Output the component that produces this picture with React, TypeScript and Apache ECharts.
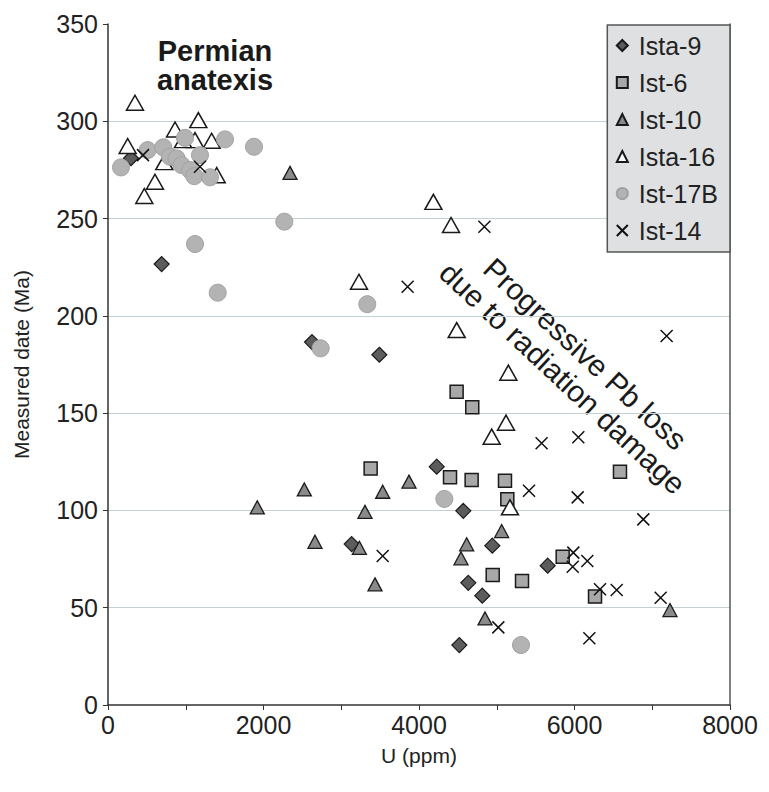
import React, { useEffect, useRef } from "react";
import * as echarts from "echarts";

const ista9 = [[296,281],[690,226.6],[2624,186.5],[3490,180],[4228,122.5],[4570,99.8],[3134,82.7],[4943,81.9],[4634,62.8],[4814,56.2],[4519,30.8],[5655,71.6]];
const ist6 = [[4484,161],[4685,153],[3378,121.6],[4399,117],[4677,115.6],[5106,115.3],[5136,105.7],[6585,119.9],[4948,66.8],[5325,63.7],[5848,76.2],[6264,55.7]];
const ist10 = [[2341,273.5],[1920,101.6],[2525,110.8],[3305,99.3],[3533,109.6],[3871,114.8],[2662,83.9],[3233,80.8],[3434,62],[4613,82.6],[4540,75.4],[4849,44.5],[5063,89.4],[7228,48.8]];
const ista16 = [[347,309.5],[1162,300.6],[862,295.8],[253,287.3],[604,268.9],[467,261.6],[1119,290.3],[1333,290],[1398,272.3],[724,279],[965,290.3],[4185,258.6],[4412,246.7],[3228,217.5],[4485,192.7],[5149,170.8],[5119,145.1],[4935,137.9],[5170,101.6]];
const ist17b = [[167,276.3],[510,285.2],[711,286.6],[797,281.8],[990,291.5],[883,280.9],[947,277.5],[1055,274.9],[1183,282.6],[1110,271.8],[1312,271.2],[1505,290.7],[1878,286.9],[2268,248.4],[1119,236.9],[1411,211.9],[3335,206],[2735,183.3],[4326,105.9],[5312,30.8]];
const ist14 = [[1183,276.6],[450,282.6],[4841,245.8],[3854,215],[3533,76.6],[7185,189.6],[5577,134.5],[6049,137.6],[5415,110.1],[6041,106.7],[6885,95.4],[5020,39.9],[6191,34.3],[5985,78.3],[5977,71.1],[6165,74],[6328,59.5],[6543,59.1],[7108,55.1]];

const seriesNames = ["Ista-9", "Ist-6", "Ist-10", "Ista-16", "Ist-17B", "Ist-14"];
const xTicks = { min: 0, max: 8000, interval: 1000, labelEvery: 2000 };
const yTicks = { min: 0, max: 350, interval: 50 };

const FONT = "Liberation Sans";

export default function App() {
  const ref = useRef<HTMLDivElement>(null);
  useEffect(() => {
    if (!ref.current) return;
    const chart = echarts.init(ref.current, undefined, { renderer: "svg" });
    const border = "#1a1a1a";
    chart.setOption({
      animation: false,
      backgroundColor: "#ffffff",
      grid: { left: 108, right: 39, top: 24, bottom: 87, containLabel: false },
      legend: {
        orient: "vertical",
        right: 39,
        top: 25,
        backgroundColor: "#dfe0e2",
        borderColor: "#555",
        borderWidth: 1.5,
        borderRadius: 0,
        padding: [8, 12, 9, 7],
        itemGap: 12,
        itemWidth: 11,
        itemHeight: 11,
        textStyle: { fontFamily: FONT, fontSize: 25, color: "#222", padding: [0, 0, 0, 6] },
        data: seriesNames,
      },
      xAxis: {
        type: "value",
        min: xTicks.min,
        max: xTicks.max,
        interval: xTicks.interval,
        name: "U (ppm)",
        nameLocation: "middle",
        nameGap: 40,
        nameTextStyle: { fontFamily: FONT, fontSize: 21, color: "#222" },
        axisLine: { show: true, lineStyle: { color: "#333", width: 1.5 } },
        axisTick: { show: true, inside: false, length: 5, lineStyle: { color: "#333" } },
        axisLabel: {
          fontFamily: FONT,
          fontSize: 25,
          color: "#222",
          margin: 7,
          formatter: (v: number) => (v % xTicks.labelEvery === 0 ? String(v) : ""),
        },
        splitLine: { show: false },
      },
      yAxis: [
        {
          type: "value",
          min: yTicks.min,
          max: yTicks.max,
          interval: yTicks.interval,
          name: "Measured date (Ma)",
          nameLocation: "middle",
          nameGap: 76,
          nameTextStyle: { fontFamily: FONT, fontSize: 21, color: "#222" },
          axisLine: { show: true, lineStyle: { color: "#333", width: 1.5 } },
          axisTick: { show: true, inside: false, length: 5, lineStyle: { color: "#333" } },
          axisLabel: { fontFamily: FONT, fontSize: 25, color: "#222", margin: 10 },
          splitLine: { show: true, showMaxLine: false, showMinLine: false, lineStyle: { color: "#c3d0d4", width: 1.2 } },
        },
        {
          type: "value",
          position: "right",
          min: yTicks.min,
          max: yTicks.max,
          interval: yTicks.interval,
          axisLine: { show: true, lineStyle: { color: "#555", width: 1.5 } },
          axisTick: { show: false },
          axisLabel: { show: false },
          splitLine: { show: false },
        },
      ],
      graphic: [
        {
          type: "text",
          x: 215,
          y: 36,
          style: {
            text: "Permian\nanatexis",
            fontFamily: FONT,
            fontWeight: "bold",
            fontSize: 29,
            lineHeight: 29,
            fill: "#1a1a1a",
            textAlign: "center",
            textVerticalAlign: "top",
          },
        },
        {
          type: "text",
          x: 574,
          y: 366,
          rotation: (-43 * Math.PI) / 180,
          style: {
            text: "Progressive Pb loss\ndue to radiation damage",
            fontFamily: FONT,
            fontSize: 30,
            lineHeight: 33,
            fill: "#1a1a1a",
            textAlign: "center",
            textVerticalAlign: "middle",
          },
        },
      ],
      series: [
        {
          name: "Ista-9",
          type: "scatter",
          symbol: "diamond",
          symbolSize: 15,
          itemStyle: { color: "#5c5c5c", borderColor: border, borderWidth: 1.2, opacity: 1 },
          data: ista9,
        },
        {
          name: "Ist-6",
          type: "scatter",
          symbol: "rect",
          symbolSize: 13,
          itemStyle: { color: "#a8a8a8", borderColor: border, borderWidth: 1.5, opacity: 1 },
          data: ist6,
        },
        {
          name: "Ist-10",
          type: "scatter",
          symbol: "triangle",
          symbolSize: [14, 13],
          itemStyle: { color: "#8a8a8a", borderColor: border, borderWidth: 1.3, opacity: 1 },
          data: ist10,
        },
        {
          name: "Ista-16",
          type: "scatter",
          symbol: "triangle",
          symbolSize: [17, 15],
          itemStyle: { color: "#ffffff", borderColor: border, borderWidth: 1.5, opacity: 1 },
          data: ista16,
        },
        {
          name: "Ist-17B",
          type: "scatter",
          symbol: "circle",
          symbolSize: 17,
          itemStyle: { color: "#b3b3b3", borderColor: "#a2a2a2", borderWidth: 1, opacity: 1 },
          data: ist17b,
        },
        {
          name: "Ist-14",
          type: "scatter",
          symbol: "path://M0,0L10,10M10,0L0,10",
          symbolSize: 12,
          itemStyle: { color: "none", borderColor: "#111", borderWidth: 1.5, opacity: 1 },
          data: ist14,
        },
      ],
    });
    return () => chart.dispose();
  }, []);
  return <div ref={ref} style={{ position: "fixed", left: 0, top: 0, width: 769, height: 792 }} />;
}
